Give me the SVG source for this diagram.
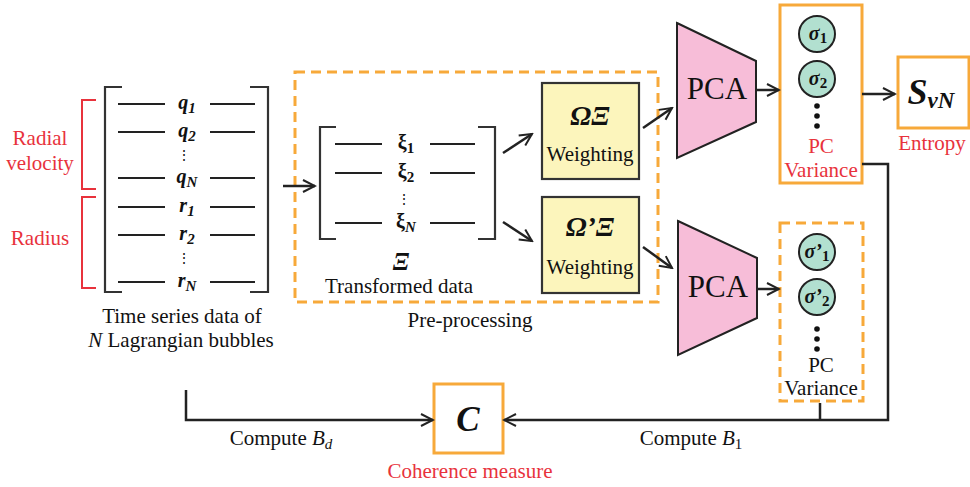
<svg xmlns="http://www.w3.org/2000/svg" width="970" height="487" viewBox="0 0 970 487" font-family="'Liberation Serif', 'Times New Roman', serif">
<style>
.lbl{fill:#111;text-anchor:middle;}
.red{fill:#E8323C;}
.bi{font-weight:bold;font-style:italic;fill:#111;text-anchor:middle;}
.xi{font-weight:bold;fill:#111;text-anchor:middle;}
.ln{stroke:#222;stroke-width:2;fill:none;}
.br{stroke:#333;stroke-width:2.2;fill:none;}
.rb{stroke:#E8323C;stroke-width:2;fill:none;}
.conn{stroke:#222;stroke-width:2.5;fill:none;}
.orange{stroke:#F7A93A;stroke-width:3;fill:#fff;}
.dash{stroke:#F7A93A;stroke-width:3;fill:none;stroke-dasharray:10,6;}
.pca{fill:#F7BDD8;stroke:#222;stroke-width:2;}
.wt{fill:#FCF5BC;stroke:#333;stroke-width:2.2;}
.circ{fill:#B2E0D0;stroke:#222;stroke-width:2;}
</style>
<defs>
<marker id="arr" markerUnits="userSpaceOnUse" markerWidth="16" markerHeight="16" viewBox="0 0 16 16" refX="14" refY="8" orient="auto">
<path d="M2,2 L14,8 L2,14" stroke="#222" stroke-width="2" fill="none"/>
</marker>
</defs>

<g id="input-matrix">
<path class="br" d="M122,87 H105 V292 H122"/>
<path class="br" d="M250,87 H268 V292 H250"/>
<g class="ln">
<line x1="118" y1="104" x2="165" y2="104"/><line x1="210" y1="104" x2="255" y2="104"/>
<line x1="118" y1="132" x2="165" y2="132"/><line x1="210" y1="132" x2="255" y2="132"/>
<line x1="118" y1="178" x2="165" y2="178"/><line x1="210" y1="178" x2="255" y2="178"/>
<line x1="118" y1="207" x2="165" y2="207"/><line x1="210" y1="207" x2="255" y2="207"/>
<line x1="118" y1="235" x2="165" y2="235"/><line x1="210" y1="235" x2="255" y2="235"/>
<line x1="118" y1="282" x2="165" y2="282"/><line x1="210" y1="282" x2="255" y2="282"/>
</g>
<text class="bi" font-size="20" x="187" y="109">q<tspan font-size="15" dy="4">1</tspan></text>
<text class="bi" font-size="20" x="187" y="137">q<tspan font-size="15" dy="4">2</tspan></text>
<text class="lbl" font-size="14" x="184" y="160">⋮</text>
<text class="bi" font-size="20" x="187" y="183">q<tspan font-size="15" dy="4">N</tspan></text>
<text class="bi" font-size="20" x="187" y="212">r<tspan font-size="15" dy="4">1</tspan></text>
<text class="bi" font-size="20" x="187" y="240">r<tspan font-size="15" dy="4">2</tspan></text>
<text class="lbl" font-size="14" x="184" y="263">⋮</text>
<text class="bi" font-size="20" x="187" y="287">r<tspan font-size="15" dy="4">N</tspan></text>
<path class="rb" d="M96,100 H82 V189 H96"/>
<path class="rb" d="M96,197 H82 V288 H96"/>
<text class="lbl red" font-size="21" x="40" y="145">Radial</text>
<text class="lbl red" font-size="21" x="40" y="170">velocity</text>
<text class="lbl red" font-size="21" x="40" y="245">Radius</text>
<text class="lbl" font-size="21" x="182" y="323">Time series data of</text>
<text class="lbl" font-size="21" x="181" y="347"><tspan font-style="italic">N</tspan> Lagrangian bubbles</text>
</g>

<g id="preprocessing">
<rect class="dash" x="295" y="72" width="363" height="230"/>
<text class="lbl" font-size="21" x="470" y="327">Pre-processing</text>
</g>

<g id="transformed-matrix">
<path class="br" d="M336,127 H320 V239 H336"/>
<path class="br" d="M478,127 H495 V239 H478"/>
<g class="ln">
<line x1="335" y1="144" x2="382" y2="144"/><line x1="430" y1="144" x2="475" y2="144"/>
<line x1="335" y1="173" x2="382" y2="173"/><line x1="430" y1="173" x2="475" y2="173"/>
<line x1="335" y1="223" x2="382" y2="223"/><line x1="430" y1="223" x2="475" y2="223"/>
</g>
<text class="xi" font-size="20" x="406" y="149">ξ<tspan font-size="15" dy="4">1</tspan></text>
<text class="xi" font-size="20" x="406" y="178">ξ<tspan font-size="15" dy="4">2</tspan></text>
<text class="lbl" font-size="14" x="404" y="204">⋮</text>
<text class="xi" font-size="20" x="406" y="228">ξ<tspan font-size="15" font-style="italic" dy="4">N</tspan></text>
<text class="bi" font-size="25" x="401" y="270">Ξ</text>
<text class="lbl" font-size="21" x="399" y="293">Transformed data</text>
</g>

<g id="weighting-1">
<rect class="wt" x="542" y="83" width="97" height="96"/>
<text class="bi" font-size="28" x="590" y="125">ΩΞ</text>
<text class="lbl" font-size="21" x="590" y="161">Weighting</text>
</g>
<g id="weighting-2">
<rect class="wt" x="542" y="197" width="97" height="96"/>
<text class="bi" font-size="28" x="590" y="236">Ω’Ξ</text>
<text class="lbl" font-size="21" x="590" y="274">Weighting</text>
</g>

<g id="pca-1">
<polygon class="pca" points="677,23 756,61 756,122 677,158"/>
<text class="lbl" font-size="31" x="717" y="99">PCA</text>
</g>
<g id="pca-2">
<polygon class="pca" points="678,221 757,258 757,318 678,355"/>
<text class="lbl" font-size="31" x="718" y="297">PCA</text>
</g>

<g id="pc-variance-1">
<rect class="orange" x="780" y="5" width="82" height="178"/>
<circle class="circ" cx="817" cy="34" r="18"/>
<text class="bi" font-size="20" x="818" y="40">σ<tspan font-size="15" font-style="normal" dy="3">1</tspan></text>
<circle class="circ" cx="817" cy="79" r="18"/>
<text class="bi" font-size="20" x="818" y="85">σ<tspan font-size="15" font-style="normal" dy="3">2</tspan></text>
<circle cx="817" cy="106" r="2.8" fill="#111"/>
<circle cx="817" cy="116" r="2.8" fill="#111"/>
<circle cx="817" cy="126" r="2.8" fill="#111"/>
<text class="lbl red" font-size="21" x="821" y="153">PC</text>
<text class="lbl red" font-size="21" x="821" y="177">Variance</text>
</g>

<g id="pc-variance-2">
<rect class="dash" x="780" y="223" width="83" height="178"/>
<circle class="circ" cx="817" cy="252" r="18"/>
<text class="bi" font-size="20" x="817" y="258">σ’<tspan font-size="15" font-style="normal" dy="3">1</tspan></text>
<circle class="circ" cx="817" cy="297" r="18"/>
<text class="bi" font-size="20" x="817" y="303">σ’<tspan font-size="15" font-style="normal" dy="3">2</tspan></text>
<circle cx="817" cy="329" r="2.8" fill="#111"/>
<circle cx="817" cy="339" r="2.8" fill="#111"/>
<circle cx="817" cy="349" r="2.8" fill="#111"/>
<text class="lbl" font-size="21" fill="#333" x="821" y="372">PC</text>
<text class="lbl" font-size="21" fill="#333" x="821" y="395">Variance</text>
</g>

<g id="entropy">
<rect class="orange" x="898" y="57" width="71" height="71"/>
<text class="bi" font-size="36" x="931" y="104">S<tspan font-size="23" dy="4">vN</tspan></text>
<text class="lbl red" font-size="21" x="932" y="150">Entropy</text>
</g>

<g id="coherence">
<rect class="orange" x="434" y="384" width="69" height="69"/>
<text class="bi" font-size="35" x="468" y="431">C</text>
<text class="lbl red" font-size="21" x="470" y="478">Coherence measure</text>
</g>

<g id="connectors">
<line class="conn" x1="283" y1="186" x2="315" y2="186" marker-end="url(#arr)"/>
<line class="conn" x1="503" y1="153" x2="532" y2="134" marker-end="url(#arr)"/>
<line class="conn" x1="503" y1="222" x2="532" y2="241" marker-end="url(#arr)"/>
<line class="conn" x1="643" y1="128" x2="672" y2="108" marker-end="url(#arr)"/>
<line class="conn" x1="643" y1="247" x2="672" y2="268" marker-end="url(#arr)"/>
<line class="conn" x1="756" y1="90" x2="779" y2="90" marker-end="url(#arr)"/>
<line class="conn" x1="757" y1="289" x2="779" y2="289" marker-end="url(#arr)"/>
<line class="conn" x1="862" y1="94" x2="895" y2="94" marker-end="url(#arr)"/>
<path class="conn" d="M862,164 H888 V420 H504" marker-end="url(#arr)"/>
<line class="conn" x1="820" y1="403" x2="820" y2="420"/>
<path class="conn" d="M186,390 V420 H433" marker-end="url(#arr)"/>
<text class="lbl" font-size="21" x="281" y="445">Compute <tspan font-style="italic">B</tspan><tspan font-style="italic" font-size="15" dy="4">d</tspan></text>
<text class="lbl" font-size="21" x="691" y="445">Compute <tspan font-style="italic">B</tspan><tspan font-size="15" dy="4">1</tspan></text>
</g>
</svg>
